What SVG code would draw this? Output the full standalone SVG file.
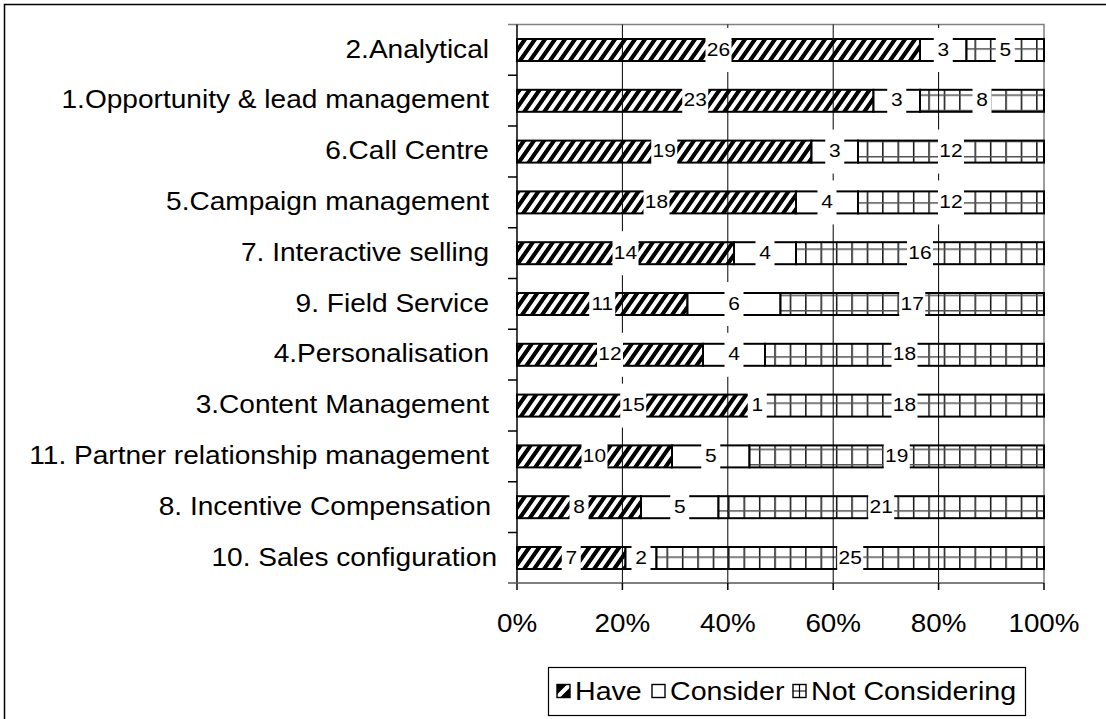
<svg xmlns="http://www.w3.org/2000/svg" width="1106" height="719" viewBox="0 0 1106 719">
<style>
.cat{font-family:"Liberation Sans",Arial,sans-serif;font-size:26px;fill:#000;text-anchor:end}
.ax{font-family:"Liberation Sans",Arial,sans-serif;font-size:26px;fill:#000;text-anchor:middle}
.dl{font-family:"Liberation Sans",Arial,sans-serif;font-size:19px;fill:#000;text-anchor:middle}
.lg{font-family:"Liberation Sans",Arial,sans-serif;font-size:26px;fill:#000}
.have{fill:url(#hatch);stroke:#000;stroke-width:2}
.cons{fill:#fff;stroke:#000;stroke-width:2}
.notc{fill:url(#grid);stroke:#000;stroke-width:2}
.lb{fill:#fff}
.grid{stroke:#000;stroke-width:1}
.sw{stroke:#000;stroke-width:1.4}
</style>
<defs>
<pattern id="hatch" patternUnits="userSpaceOnUse" width="10" height="22" patternTransform="skewX(-35)">
<rect width="10" height="22" fill="#fff"/>
<rect width="5" height="22" fill="#000"/>
</pattern>
<pattern id="grid" patternUnits="userSpaceOnUse" x="4.3" y="2" width="15.4" height="15.4">
<rect width="15.4" height="15.4" fill="#fff"/>
<path d="M0.75 0V15.4" stroke="#111" stroke-width="1.5"/>
<path d="M0 0.75H15.4" stroke="#555" stroke-width="1.5"/>
</pattern>
</defs>
<rect id="frame" x="4.5" y="4.5" width="1300" height="900" fill="#fff" stroke="#000" stroke-width="1.5"/>
<g id="plot-frame">
<path d="M508 24.5H1044V583" fill="none" stroke="#808080" stroke-width="1.5"/>
</g>
<g id="bars">
<g id="row-analytical">
<rect class="have" x="517" y="39" width="403" height="22"/>
<rect class="cons" x="920" y="39" width="46.5" height="22"/>
<rect class="notc" x="966.5" y="39" width="77.5" height="22"/>
</g>
<g id="row-opportunity">
<rect class="have" x="517" y="89.8" width="356.5" height="22"/>
<rect class="cons" x="873.5" y="89.8" width="46.5" height="22"/>
<rect class="notc" x="920" y="89.8" width="124" height="22"/>
</g>
<g id="row-callcentre">
<rect class="have" x="517" y="140.6" width="294.5" height="22"/>
<rect class="cons" x="811.5" y="140.6" width="46.5" height="22"/>
<rect class="notc" x="858" y="140.6" width="186" height="22"/>
</g>
<g id="row-campaign">
<rect class="have" x="517" y="191.4" width="279" height="22"/>
<rect class="cons" x="796" y="191.4" width="62" height="22"/>
<rect class="notc" x="858" y="191.4" width="186" height="22"/>
</g>
<g id="row-interactive">
<rect class="have" x="517" y="242.2" width="217" height="22"/>
<rect class="cons" x="734" y="242.2" width="62" height="22"/>
<rect class="notc" x="796" y="242.2" width="248" height="22"/>
</g>
<g id="row-field">
<rect class="have" x="517" y="293" width="170.5" height="22"/>
<rect class="cons" x="687.5" y="293" width="93" height="22"/>
<rect class="notc" x="780.5" y="293" width="263.5" height="22"/>
</g>
<g id="row-personalisation">
<rect class="have" x="517" y="343.8" width="186" height="22"/>
<rect class="cons" x="703" y="343.8" width="62" height="22"/>
<rect class="notc" x="765" y="343.8" width="279" height="22"/>
</g>
<g id="row-content">
<rect class="have" x="517" y="394.6" width="232.5" height="22"/>
<rect class="cons" x="749.5" y="394.6" width="15.5" height="22"/>
<rect class="notc" x="765" y="394.6" width="279" height="22"/>
</g>
<g id="row-partner">
<rect class="have" x="517" y="445.4" width="155" height="22"/>
<rect class="cons" x="672" y="445.4" width="77.5" height="22"/>
<rect class="notc" x="749.5" y="445.4" width="294.5" height="22"/>
</g>
<g id="row-incentive">
<rect class="have" x="517" y="496.2" width="124" height="22"/>
<rect class="cons" x="641" y="496.2" width="77.5" height="22"/>
<rect class="notc" x="718.5" y="496.2" width="325.5" height="22"/>
</g>
<g id="row-sales">
<rect class="have" x="517" y="547" width="108.5" height="22"/>
<rect class="cons" x="625.5" y="547" width="31" height="22"/>
<rect class="notc" x="656.5" y="547" width="387.5" height="22"/>
</g>
</g>
<g id="gridlines">
<path class="grid" d="M622.4 24.5V583M727.8 24.5V583M833.2 24.5V583M938.6 24.5V583"/>
</g>
<g id="axes" fill="none">
<path d="M517 24.5V590" stroke="#000" stroke-width="1.5"/>
<path d="M508 583H1044" stroke="#555" stroke-width="1.5"/>
<path d="M508 75.3H517M508 126.1H517M508 176.9H517M508 227.7H517M508 278.5H517M508 329.3H517M508 380.1H517M508 430.9H517M508 481.7H517M508 532.5H517" stroke="#000" stroke-width="1.5"/>
<path d="M622.4 583V590M727.8 583V590M833.2 583V590M938.6 583V590M1044 583V590" stroke="#000" stroke-width="1.5"/>
</g>
<g id="data-labels">
<rect class="lb" x="705.5" y="28" width="26" height="44"/><text class="dl" transform="translate(718.5,55.5) scale(1.1,1)">26</text>
<rect class="lb" x="933.75" y="28" width="19" height="44"/><text class="dl" transform="translate(943.25,55.5) scale(1.1,1)">3</text>
<rect class="lb" x="995.75" y="28" width="19" height="44"/><text class="dl" transform="translate(1005.25,55.5) scale(1.1,1)">5</text>

<rect class="lb" x="682.25" y="78.8" width="26" height="44"/><text class="dl" transform="translate(695.25,106.3) scale(1.1,1)">23</text>
<rect class="lb" x="887.25" y="78.8" width="19" height="44"/><text class="dl" transform="translate(896.75,106.3) scale(1.1,1)">3</text>
<rect class="lb" x="972.5" y="78.8" width="19" height="44"/><text class="dl" transform="translate(982,106.3) scale(1.1,1)">8</text>

<rect class="lb" x="651.25" y="129.6" width="26" height="44"/><text class="dl" transform="translate(664.25,157.1) scale(1.1,1)">19</text>
<rect class="lb" x="825.25" y="129.6" width="19" height="44"/><text class="dl" transform="translate(834.75,157.1) scale(1.1,1)">3</text>
<rect class="lb" x="938" y="129.6" width="26" height="44"/><text class="dl" transform="translate(951,157.1) scale(1.1,1)">12</text>

<rect class="lb" x="643.5" y="180.4" width="26" height="44"/><text class="dl" transform="translate(656.5,207.9) scale(1.1,1)">18</text>
<rect class="lb" x="817.5" y="180.4" width="19" height="44"/><text class="dl" transform="translate(827,207.9) scale(1.1,1)">4</text>
<rect class="lb" x="938" y="180.4" width="26" height="44"/><text class="dl" transform="translate(951,207.9) scale(1.1,1)">12</text>

<rect class="lb" x="612.5" y="231.2" width="26" height="44"/><text class="dl" transform="translate(625.5,258.7) scale(1.1,1)">14</text>
<rect class="lb" x="755.5" y="231.2" width="19" height="44"/><text class="dl" transform="translate(765,258.7) scale(1.1,1)">4</text>
<rect class="lb" x="907" y="231.2" width="26" height="44"/><text class="dl" transform="translate(920,258.7) scale(1.1,1)">16</text>

<rect class="lb" x="589.25" y="282" width="26" height="44"/><text class="dl" transform="translate(602.25,309.5) scale(1.1,1)">11</text>
<rect class="lb" x="724.5" y="282" width="19" height="44"/><text class="dl" transform="translate(734,309.5) scale(1.1,1)">6</text>
<rect class="lb" x="899.25" y="282" width="26" height="44"/><text class="dl" transform="translate(912.25,309.5) scale(1.1,1)">17</text>

<rect class="lb" x="597" y="332.8" width="26" height="44"/><text class="dl" transform="translate(610,360.3) scale(1.1,1)">12</text>
<rect class="lb" x="724.5" y="332.8" width="19" height="44"/><text class="dl" transform="translate(734,360.3) scale(1.1,1)">4</text>
<rect class="lb" x="891.5" y="332.8" width="26" height="44"/><text class="dl" transform="translate(904.5,360.3) scale(1.1,1)">18</text>

<rect class="lb" x="620.25" y="383.6" width="26" height="44"/><text class="dl" transform="translate(633.25,411.1) scale(1.1,1)">15</text>
<rect class="lb" x="747.75" y="383.6" width="19" height="44"/><text class="dl" transform="translate(757.25,411.1) scale(1.1,1)">1</text>
<rect class="lb" x="891.5" y="383.6" width="26" height="44"/><text class="dl" transform="translate(904.5,411.1) scale(1.1,1)">18</text>

<rect class="lb" x="581.5" y="434.4" width="26" height="44"/><text class="dl" transform="translate(594.5,461.9) scale(1.1,1)">10</text>
<rect class="lb" x="701.25" y="434.4" width="19" height="44"/><text class="dl" transform="translate(710.75,461.9) scale(1.1,1)">5</text>
<rect class="lb" x="883.75" y="434.4" width="26" height="44"/><text class="dl" transform="translate(896.75,461.9) scale(1.1,1)">19</text>

<rect class="lb" x="569.5" y="485.2" width="19" height="44"/><text class="dl" transform="translate(579,512.7) scale(1.1,1)">8</text>
<rect class="lb" x="670.25" y="485.2" width="19" height="44"/><text class="dl" transform="translate(679.75,512.7) scale(1.1,1)">5</text>
<rect class="lb" x="868.25" y="485.2" width="26" height="44"/><text class="dl" transform="translate(881.25,512.7) scale(1.1,1)">21</text>

<rect class="lb" x="561.75" y="536" width="19" height="44"/><text class="dl" transform="translate(571.25,563.5) scale(1.1,1)">7</text>
<rect class="lb" x="631.5" y="536" width="19" height="44"/><text class="dl" transform="translate(641,563.5) scale(1.1,1)">2</text>
<rect class="lb" x="837.25" y="536" width="26" height="44"/><text class="dl" transform="translate(850.25,563.5) scale(1.1,1)">25</text>
</g>
<g id="category-labels">
<text class="cat" transform="translate(489,57.5) scale(1.08,1)">2.Analytical</text>
<text class="cat" transform="translate(489,108.3) scale(1.08,1)">1.Opportunity &amp; lead management</text>
<text class="cat" transform="translate(489,159.1) scale(1.08,1)">6.Call Centre</text>
<text class="cat" transform="translate(489,209.9) scale(1.08,1)">5.Campaign management</text>
<text class="cat" transform="translate(489,260.7) scale(1.08,1)">7. Interactive selling</text>
<text class="cat" transform="translate(489,311.5) scale(1.08,1)">9. Field Service</text>
<text class="cat" transform="translate(489,362.3) scale(1.08,1)">4.Personalisation</text>
<text class="cat" transform="translate(489,413.1) scale(1.08,1)">3.Content Management</text>
<text class="cat" transform="translate(489,463.9) scale(1.08,1)">11. Partner relationship management</text>
<text class="cat" transform="translate(491,514.7) scale(1.08,1)">8. Incentive Compensation</text>
<text class="cat" transform="translate(497,565.5) scale(1.08,1)">10. Sales configuration</text>
</g>
<g id="axis-labels">
<text class="ax" transform="translate(517,631.5) scale(1.07,1)">0%</text>
<text class="ax" transform="translate(622.4,631.5) scale(1.07,1)">20%</text>
<text class="ax" transform="translate(727.8,631.5) scale(1.07,1)">40%</text>
<text class="ax" transform="translate(833.2,631.5) scale(1.07,1)">60%</text>
<text class="ax" transform="translate(938.6,631.5) scale(1.07,1)">80%</text>
<text class="ax" transform="translate(1044,631.5) scale(1.07,1)">100%</text>
</g>
<g id="legend">
<rect x="548.5" y="667.5" width="477" height="48" fill="#fff" stroke="#000" stroke-width="1.2"/>
<g id="legend-have">
<rect x="557" y="684.5" width="13" height="13" fill="#000"/>
<polygon points="557,694.5 567,684.5 570,684.5 570,687.5 560,697.5 557,697.5" fill="#fff"/>
<rect class="sw" x="557" y="684.5" width="13" height="13" fill="none"/>
<text class="lg" transform="translate(575,700) scale(1.1,1)">Have</text>
</g>
<g id="legend-consider">
<rect class="sw" x="652" y="684.5" width="13" height="13" fill="#fff"/>
<text class="lg" transform="translate(670,700) scale(1.1,1)">Consider</text>
</g>
<g id="legend-notconsidering">
<rect class="sw" x="793" y="684.5" width="13" height="13" fill="#fff"/>
<path d="M799.5 684.5V697.5M793 691H806" stroke="#000" stroke-width="1.2" fill="none"/>
<text class="lg" transform="translate(811,700) scale(1.1,1)">Not Considering</text>
</g>
</g>
</svg>
